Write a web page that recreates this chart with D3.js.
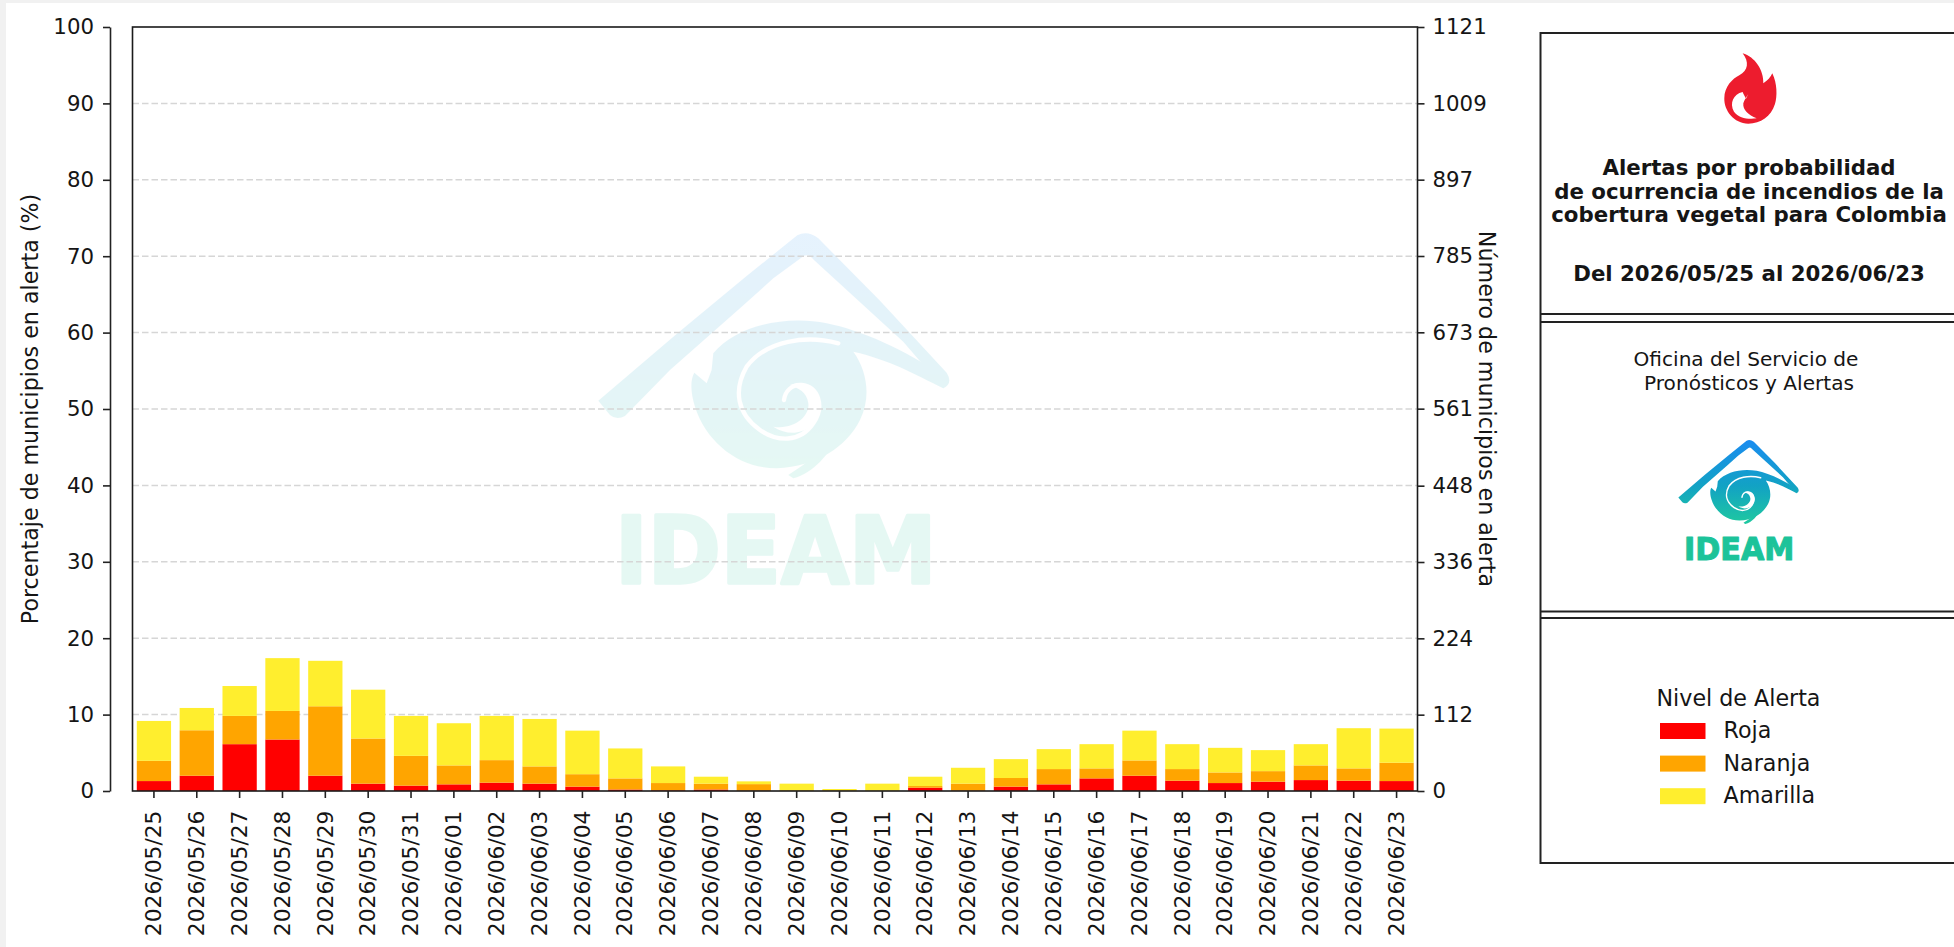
<!DOCTYPE html>
<html>
<head>
<meta charset="utf-8">
<script src="https://cdn.jsdelivr.net/npm/d3@7"></script>
<style>
  html, body { margin: 0; padding: 0; background: #f1f1f1; overflow: hidden; }
  svg { display: block; }
  text { font-family: "DejaVu Sans", sans-serif; fill: #151515; }
</style>
</head>
<body>
<div id="chart"></div>
<script>
var width = 1954;
var height = 947;

// Data (percent of municipalities, per level)
var fechas = ["2026/05/25", "2026/05/26", "2026/05/27", "2026/05/28", "2026/05/29", "2026/05/30",
    "2026/05/31", "2026/06/01", "2026/06/02", "2026/06/03", "2026/06/04", "2026/06/05", "2026/06/06",
    "2026/06/07", "2026/06/08", "2026/06/09", "2026/06/10", "2026/06/11", "2026/06/12", "2026/06/13",
    "2026/06/14", "2026/06/15", "2026/06/16", "2026/06/17", "2026/06/18", "2026/06/19", "2026/06/20",
    "2026/06/21", "2026/06/22", "2026/06/23"];
var roja = [1.3, 2.0, 6.13, 6.74, 2.0, 0.96, 0.7, 0.87, 1.09, 0.96, 0.57, 0.2, 0.09,
    0.2, 0.05, 0, 0, 0, 0.43, 0.05, 0.57, 0.87, 1.65, 2.0, 1.35, 1.04, 1.22, 1.43, 1.35, 1.3];
var naranja = [2.65, 5.95, 3.7, 3.74, 9.09, 5.91, 3.9, 2.48, 2.95, 2.26, 1.63, 1.45, 0.95,
    0.76, 0.85, 0.09, 0.09, 0.05, 0.22, 0.91, 1.13, 2.0, 1.31, 2.0, 1.52, 1.39, 1.38, 1.92, 1.61, 2.4];
var amarilla = [5.22, 2.92, 3.91, 6.91, 5.95, 6.39, 5.23, 5.52, 5.79, 6.21, 5.7, 3.92, 2.18,
    0.91, 0.36, 0.87, 0.17, 0.91, 1.22, 2.08, 2.47, 2.61, 3.17, 3.9, 3.26, 3.22, 2.75, 2.78, 5.26, 4.47];

var niveles = ["Roja", "Naranja", "Amarilla"];
var colores = ["#ff0000", "#ffa500", "#ffee2e"];
var ticksPct = [0, 10, 20, 30, 40, 50, 60, 70, 80, 90, 100];
var ticksMun = [0, 112, 224, 336, 448, 561, 673, 785, 897, 1009, 1121];
var totalMunicipios = 1121;

var titulo = ["Alertas por probabilidad", "de ocurrencia de incendios de la", "cobertura vegetal para Colombia"];
var periodo = "Del 2026/05/25 al 2026/06/23";
var oficina = ["Oficina del Servicio de", "Pronósticos y Alertas"];

var fontSize = 21.3;
var labelSize = 22.2;
var left = 132.5, right = 1417.5, top_ = 27, bottom = 791;

var svg = d3.select("#chart").append("svg")
    .attr("width", width)
    .attr("height", height);

// white sheet, the page grey shows as a thin strip top and left
svg.append("rect").attr("x", 6).attr("y", 3).attr("width", width).attr("height", height).attr("fill", "#ffffff");

var defs = svg.append("defs");
var grad = defs.append("linearGradient").attr("id", "logoGrad")
    .attr("gradientUnits", "userSpaceOnUse")
    .attr("x1", 0).attr("y1", 70).attr("x2", 0).attr("y2", 800);
grad.append("stop").attr("offset", "0").attr("stop-color", "#1a8cf0");
grad.append("stop").attr("offset", "0.55").attr("stop-color", "#12a2c4");
grad.append("stop").attr("offset", "1").attr("stop-color", "#1fc8a0");

// IDEAM logo, drawn in a 1320x1200 box
function drawLogo(g) {
    g.append("path")
        .attr("fill", "url(#logoGrad)")
        .attr("d", "M115,572 L350,372 L560,198 L712,76 Q742,60 775,85 L960,272 L1160,488 Q1180,520 1150,535 " +
            "L1030,395 L762,150 Q745,128 728,140 L640,205 L545,290 L330,480 L195,618 Q170,632 150,615 Z");
    g.append("path")
        .attr("fill", "url(#logoGrad)")
        .attr("d", "M460,430 C530,345 680,315 800,340 C900,360 1040,420 1150,500 L1150,535 C1060,490 990,450 880,425 " +
            "C920,480 935,560 900,630 C860,710 770,770 650,775 C540,775 440,700 405,590 C392,550 390,510 403,488 " +
            "L440,520 L455,480 Z");
    g.append("path")
        .attr("fill", "url(#logoGrad)")
        .attr("d", "M685,795 C740,760 790,720 835,675 C810,730 760,790 700,805 Z");
    g.append("path")
        .attr("fill", "none").attr("stroke", "#ffffff").attr("stroke-width", 13).attr("stroke-linecap", "round")
        .attr("d", "M835,400 C740,375 620,390 560,470 C520,540 530,610 600,660 C650,695 720,700 760,640 " +
            "C795,590 775,530 725,525 C695,522 675,545 672,570");
    g.append("path")
        .attr("fill", "#ffffff")
        .attr("d", "M690,525 C740,505 790,545 780,600 C770,660 700,690 640,650 C700,660 750,620 745,580 C740,545 715,535 690,525 Z");
    g.append("text")
        .attr("x", 165).attr("y", 1120)
        .attr("textLength", 965).attr("lengthAdjust", "spacingAndGlyphs")
        .attr("font-size", 278).attr("font-weight", "bold")
        .attr("stroke", "#1cc39a").attr("stroke-width", 10).attr("stroke-linejoin", "round")
        .style("fill", "#1cc39a")
        .text("IDEAM");
}

// Watermark behind the bars
var marca = svg.append("g")
    .attr("transform", "translate(560,210) scale(0.3333)")
    .attr("opacity", 0.11);
drawLogo(marca);

// Scales
var x = d3.scaleBand().domain(fechas).range([left, right + 0.5]).paddingInner(0.2).paddingOuter(0.1);
var y = d3.scaleLinear().domain([0, 100]).range([bottom, top_]);
var yMun = d3.scaleLinear().domain([0, totalMunicipios]).range([bottom, top_]);

// Grid
svg.append("g").selectAll("line")
    .data(ticksPct.filter(function (d) { return d > 0 && d < 100; }))
    .enter().append("line")
    .attr("x1", left).attr("x2", right)
    .attr("y1", function (d) { return y(d); })
    .attr("y2", function (d) { return y(d); })
    .attr("stroke", "#d6d6d6")
    .attr("stroke-width", 1.5)
    .attr("stroke-dasharray", "6.5,3");

// Stacked bars
var filas = fechas.map(function (f, i) {
    return { fecha: f, Roja: roja[i], Naranja: naranja[i], Amarilla: amarilla[i] };
});
var series = d3.stack().keys(niveles)(filas);

svg.append("g").selectAll("g")
    .data(series)
    .enter().append("g")
    .attr("fill", function (d, i) { return colores[i]; })
    .selectAll("rect")
    .data(function (d) { return d; })
    .enter().append("rect")
    .attr("x", function (d) { return x(d.data.fecha); })
    .attr("y", function (d) { return y(d[1]); })
    .attr("width", x.bandwidth())
    .attr("height", function (d) { return y(d[0]) - y(d[1]); });

// Frame of the plot
svg.append("rect")
    .attr("x", left).attr("y", top_)
    .attr("width", right - left).attr("height", bottom - top_)
    .attr("fill", "none").attr("stroke", "#1a1a1a").attr("stroke-width", 1.6);

// Axes
function styleAxis(g) {
    g.selectAll("path").attr("stroke", "#222").attr("stroke-width", 1.6);
    g.selectAll("line").attr("stroke", "#222").attr("stroke-width", 1.6);
    g.selectAll("text").attr("font-size", fontSize).style("font-family", '"DejaVu Sans", sans-serif').style("fill", "#151515");
}

svg.append("g")
    .attr("transform", "translate(110,0)")
    .call(d3.axisLeft(y).tickValues(ticksPct).tickSize(7).tickSizeOuter(0).tickPadding(9))
    .call(styleAxis);

svg.append("g")
    .attr("transform", "translate(" + right + ",0)")
    .call(d3.axisRight(yMun).tickValues(ticksMun).tickFormat(d3.format("d")).tickSize(7).tickSizeOuter(0).tickPadding(8))
    .call(styleAxis)
    .select(".domain").remove();

var ejeX = svg.append("g")
    .attr("transform", "translate(0," + bottom + ")")
    .call(d3.axisBottom(x).tickSize(7).tickSizeOuter(0))
    .call(styleAxis);
ejeX.select(".domain").remove();
ejeX.selectAll("text")
    .attr("transform", "rotate(-90)")
    .attr("text-anchor", "end")
    .attr("x", -19.5).attr("y", 0)
    .attr("dy", "0.33em")
    .attr("font-size", 21.8);

// Axis titles
svg.append("text")
    .attr("transform", "translate(38,409) rotate(-90)")
    .attr("text-anchor", "middle")
    .attr("font-size", labelSize)
    .text("Porcentaje de municipios en alerta (%)");

svg.append("text")
    .attr("transform", "translate(1479,409) rotate(90)")
    .attr("text-anchor", "middle")
    .attr("font-size", labelSize)
    .text("Número de municipios en alerta");

// Side panel
var panelX = 1540.5;
var panel = svg.append("g");
panel.append("rect")
    .attr("x", panelX).attr("y", 33)
    .attr("width", width).attr("height", 830)
    .attr("fill", "none").attr("stroke", "#222").attr("stroke-width", 2);
[314, 322, 611.5, 618].forEach(function (yy) {
    panel.append("line")
        .attr("x1", panelX).attr("x2", width)
        .attr("y1", yy).attr("y2", yy)
        .attr("stroke", "#222").attr("stroke-width", 1.8);
});

// Flame
var llama = panel.append("g").attr("transform", "translate(1500,0) scale(0.3333)");
llama.append("path")
    .attr("fill", "#ed1c2e")
    .attr("d", "M728,160 C765,170 792,212 790,250 C803,242 812,232 817,220 C832,250 832,290 825,312 " +
        "C813,350 782,371 745,371 C702,371 672,332 673,295 C673,260 698,236 718,226 C745,212 748,185 728,160 Z");
llama.append("path")
    .attr("fill", "#ffffff")
    .attr("d", "M728,276 C700,282 688,310 702,335 C716,355 745,358 770,355 C745,345 728,330 730,310 " +
        "C733,300 738,292 745,282 L738,296 C734,288 730,282 728,276 Z");

panel.append("g").selectAll("text")
    .data(titulo)
    .enter().append("text")
    .attr("x", 1749)
    .attr("y", function (d, i) { return 175 + i * 23.5; })
    .attr("text-anchor", "middle")
    .attr("font-weight", "bold")
    .attr("font-size", fontSize)
    .text(function (d) { return d; });

panel.append("text")
    .attr("x", 1749).attr("y", 281)
    .attr("text-anchor", "middle")
    .attr("font-weight", "bold")
    .attr("font-size", fontSize)
    .text(periodo);

panel.append("g").selectAll("text")
    .data(oficina)
    .enter().append("text")
    .attr("x", function (d, i) { return i === 0 ? 1746 : 1749; })
    .attr("y", function (d, i) { return 366 + i * 24; })
    .attr("text-anchor", "middle")
    .attr("font-size", 20.1)
    .text(function (d) { return d; });

// Small logo in the panel
var logoPanel = panel.append("g")
    .attr("transform", "translate(1665.2,432) scale(0.1143)");
drawLogo(logoPanel);

// Legend
panel.append("text")
    .attr("x", 1656.5).attr("y", 706)
    .attr("font-size", labelSize)
    .text("Nivel de Alerta");

var filaLegenda = panel.append("g").selectAll("g")
    .data(niveles)
    .enter().append("g")
    .attr("transform", function (d, i) { return "translate(0," + (723 + i * 32.6) + ")"; });
filaLegenda.append("rect")
    .attr("x", 1660).attr("y", 0)
    .attr("width", 45.5).attr("height", 16)
    .attr("fill", function (d, i) { return colores[i]; });
filaLegenda.append("text")
    .attr("x", 1723.5).attr("y", 15)
    .attr("font-size", labelSize)
    .text(function (d) { return d; });
</script>
</body>
</html>
